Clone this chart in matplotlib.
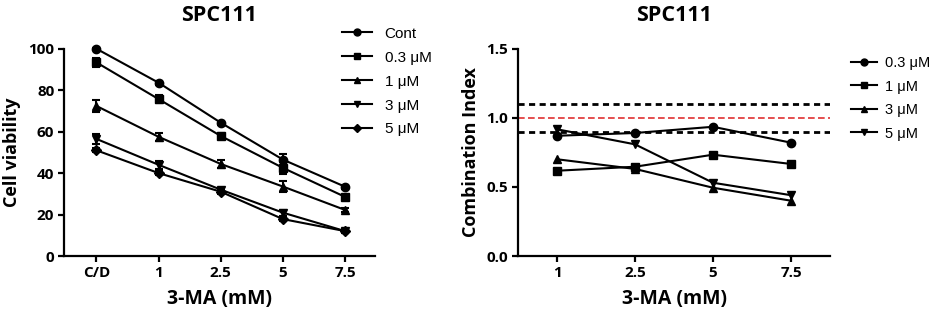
import matplotlib
matplotlib.use('Agg')
import matplotlib.pyplot as plt

# left panel: cell viability
cats = ['C/D', '1', '2.5', '5', '7.5']
via_labels = ['Cont', '0.3 μM', '1 μM', '3 μM', '5 μM']
via_cont = [100, 83.6, 64.3, 46.5, 33.4]
via_03 = [93.4, 75.7, 57.9, 42.5, 28.5]
via_1 = [72.4, 57.5, 44.4, 33.5, 22.2]
via_3 = [56.5, 44.0, 32.0, 20.9, 12.0]
via_5 = [51.0, 40.0, 31.0, 17.8, 12.0]
via_err = [
    [0.5, 1.0, 1.0, 2.5, 1.0],
    [2.0, 2.0, 1.5, 3.0, 1.0],
    [2.8, 2.0, 2.0, 2.8, 1.0],
    [2.5, 2.0, 1.0, 1.5, 1.0],
    [1.0, 1.0, 1.0, 1.0, 1.0],
]

# right panel: combination index
ci_cats = ['1', '2.5', '5', '7.5']
ci_labels = ['0.3 μM', '1 μM', '3 μM', '5 μM']
ci_03 = [0.87, 0.89, 0.935, 0.82]
ci_1 = [0.617, 0.646, 0.733, 0.666]
ci_3 = [0.70, 0.63, 0.494, 0.40]
ci_5 = [0.917, 0.808, 0.53, 0.44]

markers = ['o', 's', '^', 'v', 'D']
msizes = [6, 6, 6, 6, 5]

bold = {'family': 'Open Sans', 'weight': 'bold'}

fig = plt.figure(figsize=(9.41, 3.16), dpi=100)
ax1 = fig.add_axes([64/941, 60/316, 311/941, 207.3/316])
ax2 = fig.add_axes([518/941, 60/316, 312/941, 207.3/316])

for ax in (ax1, ax2):
    ax.spines['top'].set_visible(False)
    ax.spines['right'].set_visible(False)
    ax.spines['left'].set_linewidth(1.6)
    ax.spines['bottom'].set_linewidth(1.6)
    ax.tick_params(direction='out', length=4, width=1.6, pad=3)

series = [via_cont, via_03, via_1, via_3, via_5]
xs = range(len(cats))
for i, ys in enumerate(series):
    ax1.errorbar(xs, ys, yerr=via_err[i], color='black', lw=1.5,
                 marker=markers[i], ms=msizes[i], capsize=3, capthick=1.5,
                 elinewidth=1.5, label=via_labels[i], clip_on=False)
ax1.set_xlim(-0.52, 4.48)
ax1.set_ylim(0, 100)
ax1.set_xticks(list(xs))
ax1.set_xticklabels(cats)
ax1.set_yticks([0, 20, 40, 60, 80, 100])
ax1.set_ylabel('Cell viability', fontsize=13, labelpad=5, **bold)
ax1.set_xlabel('3-MA (mM)', fontsize=14, labelpad=7, **bold)
ax1.set_title('SPC111', fontsize=15.5, pad=20, **bold)
ax1.legend(handles=[plt.Line2D([], [], color='black', lw=1.5, marker=m, ms=s - 1)
                    for m, s in zip(markers, msizes)],
           labels=via_labels, loc='upper left',
           bbox_to_anchor=(328/941, 303/316), bbox_transform=fig.transFigure,
           frameon=False, handlelength=2.0, handletextpad=0.8, labelspacing=0.65,
           prop={'family': 'Liberation Sans', 'size': 11})

ci_series = [ci_03, ci_1, ci_3, ci_5]
cx = range(len(ci_cats))
ax2.axhline(1.1, color='black', ls=(0, (2.2, 1.6)), lw=2)
ax2.axhline(0.9, color='black', ls=(0, (2.2, 1.6)), lw=2)
ax2.axhline(1.0, color='#e03030', ls=(0, (4, 2)), lw=1.2)
for i, ys in enumerate(ci_series):
    ax2.plot(cx, ys, color='black', lw=1.5, marker=markers[i], ms=6, label=ci_labels[i])
ax2.set_xlim(-0.5, 3.5)
ax2.set_ylim(0, 1.5)
ax2.set_xticks(list(cx))
ax2.set_xticklabels(ci_cats)
ax2.set_yticks([0.0, 0.5, 1.0, 1.5])
ax2.set_yticklabels(['0.0', '0.5', '1.0', '1.5'])
ax2.set_ylabel('Combination Index', fontsize=13, labelpad=5, **bold)
ax2.set_xlabel('3-MA (mM)', fontsize=14, labelpad=7, **bold)
ax2.set_title('SPC111', fontsize=15.5, pad=20, **bold)
ax2.legend(handles=[plt.Line2D([], [], color='black', lw=1.5, marker=m, ms=5)
                    for m in markers[:4]],
           labels=ci_labels, loc='upper left',
           bbox_to_anchor=(838/941, 273/316), bbox_transform=fig.transFigure,
           frameon=False, handlelength=1.8, handletextpad=0.5, labelspacing=0.65,
           prop={'family': 'Liberation Sans', 'size': 10.5})

for ax in (ax1, ax2):
    for lbl in ax.get_xticklabels() + ax.get_yticklabels():
        lbl.set_fontfamily('Open Sans')
        lbl.set_fontweight('bold')
        lbl.set_fontsize(11)

fig.savefig('out.png', dpi=100)
